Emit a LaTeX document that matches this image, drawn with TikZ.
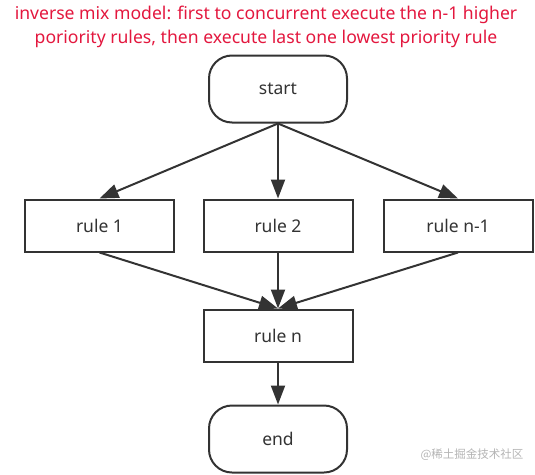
\documentclass[tikz,border=0pt]{standalone}
\usepackage{fontspec}
\setmainfont{Noto Sans}
\newfontfamily\cjkfont{Noto Sans CJK SC}
\usetikzlibrary{arrows.meta}
\definecolor{titlered}{HTML}{E3173E}
\definecolor{ink}{HTML}{333333}
\definecolor{mark}{HTML}{B4B4B4}

\begin{document}
\begin{tikzpicture}[x=1pt, y=-1pt,
        every node/.style={font=\fontsize{17.5}{20}\selectfont, text=ink},
        terminal/.style={draw=ink, line width=2pt, rectangle, rounded corners=23pt,
          minimum width=138pt, minimum height=67pt},
        rulebox/.style={draw=ink, line width=2pt, rectangle,
          minimum width=149pt, minimum height=52pt},
        flow/.style={draw=ink, line width=2pt, -{Triangle[length=19pt, width=14pt]}}
      ]
        % feste Bildgroesse
        \useasboundingbox (0,0) rectangle (535,474);

        % Titel
        \node[text=titlered, align=center, font=\fontsize{17.6}{24}\selectfont] (title) at (266,27)
          {inverse mix model: first to concurrent execute the n-1 higher\\
           poriority rules, then execute last one lowest priority rule};

        % Ablauf
        \node[terminal] (start) at (278,89) {start};
        \node[rulebox] (rule1) at (99.5,225.5) {rule 1};
        \node[rulebox] (rule2) at (278,225.5) {rule 2};
        \node[rulebox] (rulem) at (458,225.5) {rule n-1};
        \node[rulebox] (rulen) at (278,335.5) {rule n};
        \node[terminal] (end) at (278,439) {end};

        % Pfeile
        \draw[flow] (start.south) -- (rule1.north);
        \draw[flow] (start.south) -- (rule2.north);
        \draw[flow] (start.south) -- (rulem.north);
        \draw[flow] (rule1.south) -- (rulen.north);
        \draw[flow] (rule2.south) -- (rulen.north);
        \draw[flow] (rulem.south) -- (rulen.north);
        \draw[flow] (rulen.south) -- (end.north);

        % Wasserzeichen
        \node[text=mark, font=\cjkfont\fontsize{11.5}{13}\selectfont] (wm) at (472,455) {@稀土掘金技术社区};
      \end{tikzpicture}
\end{document}
